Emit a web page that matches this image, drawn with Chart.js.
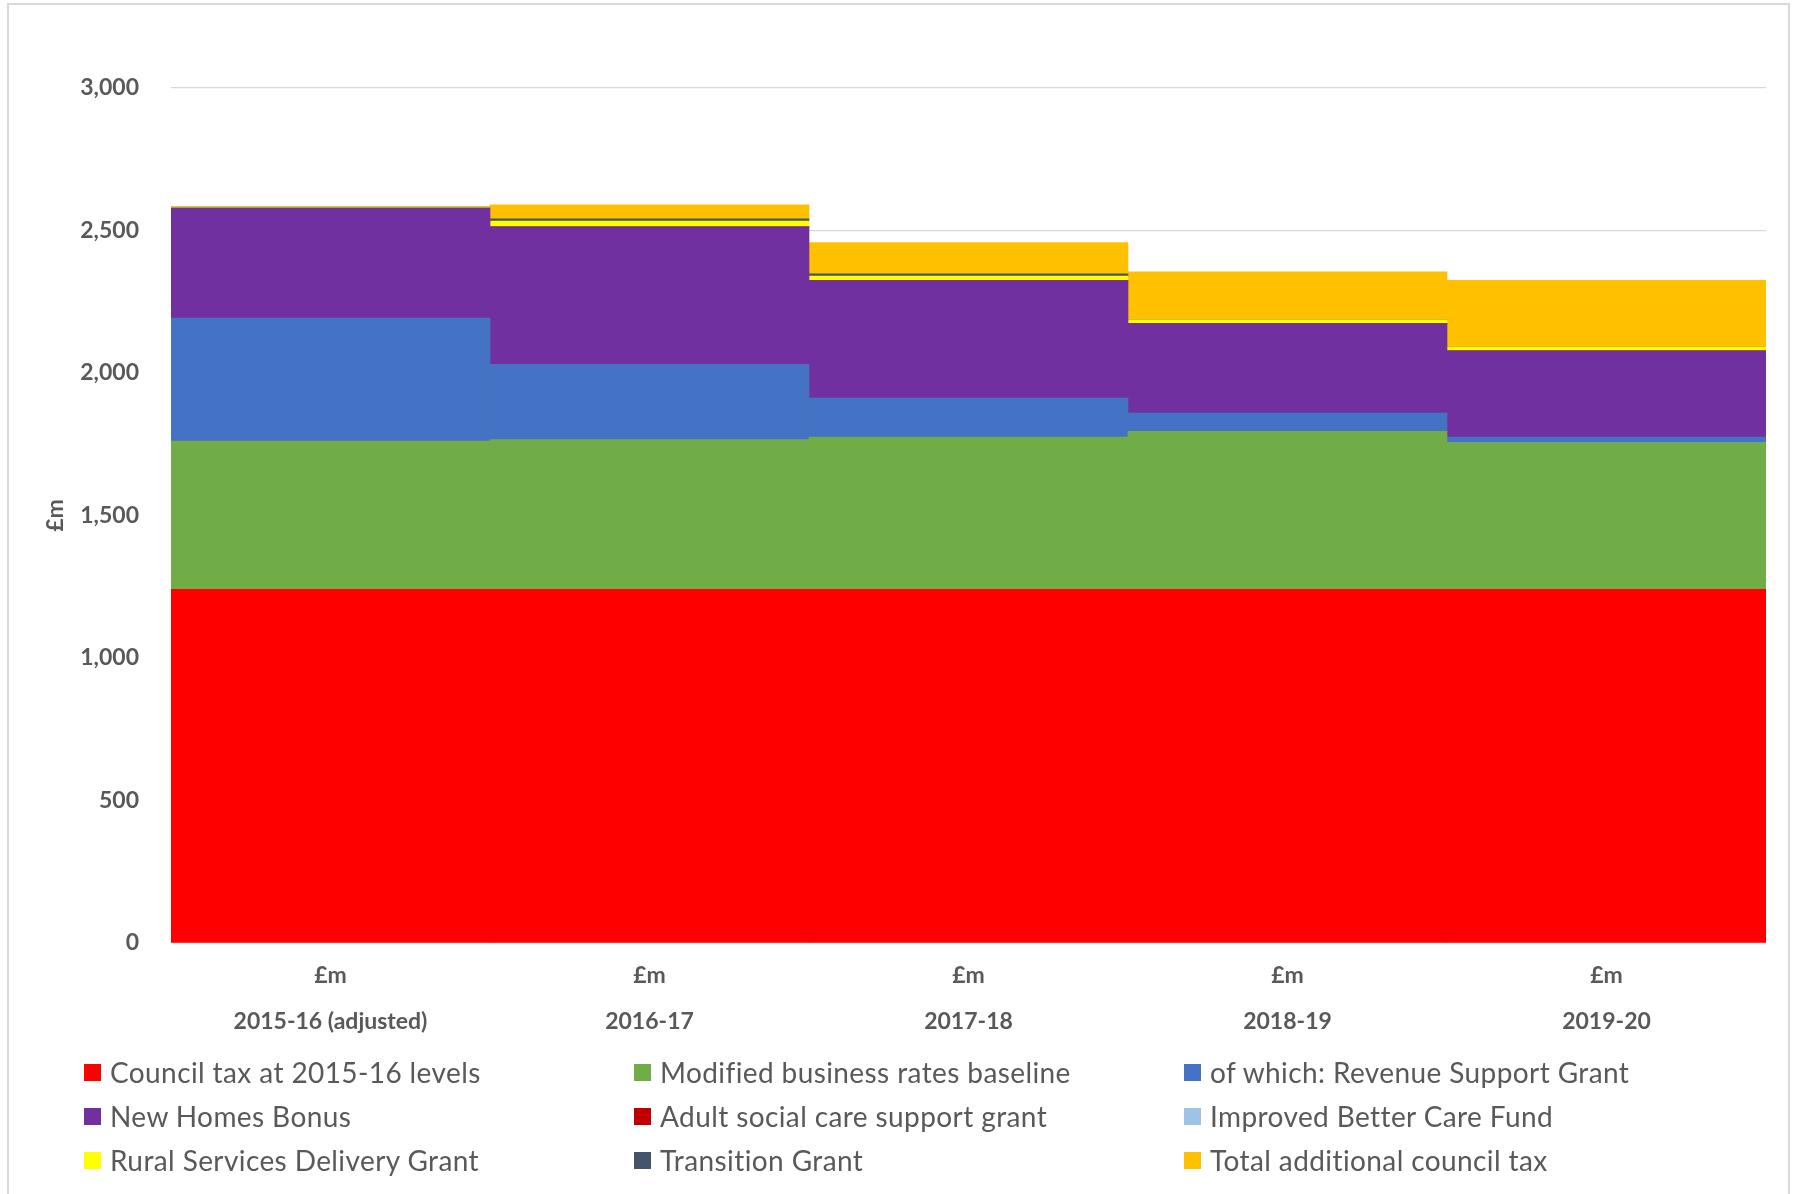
<!DOCTYPE html>
<html lang="en">
<head>
<meta charset="utf-8">
<title>Core spending power</title>
<script src="https://cdn.jsdelivr.net/npm/chart.js@4.4.1/dist/chart.umd.min.js"></script>
<style>
  html, body { margin: 0; padding: 0; background: #fff; }
  body { width: 1794px; height: 1194px; position: relative; overflow: hidden; font-family: Lato, sans-serif; }
  #frame { position: absolute; left: 7px; top: 3px; width: 1783px; height: 1300px; border: 2px solid #d9d9d9; box-sizing: border-box; }
  #chart { position: absolute; left: 0; top: 0; }
  #legend { position: absolute; left: 84px; top: 1050px; display: grid; grid-template-columns: repeat(3, 550px); grid-auto-rows: 44px; }
  .item { display: flex; align-items: center; font-size: 28px; letter-spacing: 0.4px; color: #595959; white-space: nowrap; }
  .swatch { width: 17px; height: 17px; margin-right: 9px; flex: none; }
</style>
</head>
<body>
<div id="frame"></div>
<canvas id="chart" width="1794" height="1194"></canvas>
<div id="legend"></div>
<script>
// categories and units
const years = ['2015-16 (adjusted)', '2016-17', '2017-18', '2018-19', '2019-20'];
const unitLabel = '£m';

// series, bottom of the stack first
const seriesNames = [
  'Council tax at 2015-16 levels',
  'Modified business rates baseline',
  'of which: Revenue Support Grant',
  'New Homes Bonus',
  'Adult social care support grant',
  'Improved Better Care Fund',
  'Rural Services Delivery Grant',
  'Transition Grant',
  'Total additional council tax'
];
const seriesColors = ['#ff0000', '#70ad47', '#4472c4', '#7030a0', '#c00000', '#9dc3e6', '#ffff00', '#44546a', '#ffc000'];

const councilTax2015 = [1241, 1241, 1241, 1241, 1241];
const businessRatesBaseline = [520, 525, 534, 554, 515];
const revenueSupportGrant = [432, 264, 137, 64, 19];
const newHomesBonus = [386, 483, 412, 314, 303];
const adultSocialCareGrant = [0, 0, 0, 0, 0];
const improvedBetterCareFund = [0, 0, 0, 0, 0];
const ruralServicesGrant = [4, 20, 16, 14, 13];
const transitionGrant = [0, 8, 8, 0, 0];
const additionalCouncilTax = [0, 49, 110, 168, 234];

// y axis
const yMax = 3000;
const yStep = 500;

const seriesValues = [
  councilTax2015, businessRatesBaseline, revenueSupportGrant, newHomesBonus,
  adultSocialCareGrant, improvedBetterCareFund, ruralServicesGrant, transitionGrant, additionalCouncilTax
];

const datasets = seriesNames.map((name, i) => ({
  label: name,
  data: seriesValues[i],
  backgroundColor: seriesColors[i],
  borderWidth: 0,
  categoryPercentage: 1,
  barPercentage: 1
}));

const tickFont = { family: 'Lato', weight: 'bold', size: 23 };

new Chart(document.getElementById('chart'), {
  type: 'bar',
  data: {
    labels: years.map(y => [unitLabel, y]),
    datasets: datasets
  },
  options: {
    responsive: false,
    animation: false,
    layout: { padding: { top: 88, right: 28, left: 0, bottom: 0 } },
    plugins: {
      legend: { display: false },
      tooltip: { enabled: false }
    },
    scales: {
      x: {
        stacked: true,
        grid: { display: false, drawTicks: false },
        border: { display: false },
        ticks: {
          padding: 10,
          color: '#595959',
          autoSkip: false,
          maxRotation: 0,
          font: { ...tickFont, lineHeight: 1.98 }
        },
        afterFit: s => { s.height = 251; }
      },
      y: {
        stacked: true,
        min: 0,
        max: yMax,
        grid: { color: '#d9d9d9', lineWidth: 1.3, drawTicks: false },
        border: { display: false },
        ticks: {
          stepSize: yStep,
          padding: 32,
          color: '#595959',
          font: tickFont,
          callback: v => v.toLocaleString('en-GB')
        },
        title: {
          display: true,
          text: unitLabel,
          color: '#595959',
          font: tickFont,
          padding: { top: 42, bottom: 0 }
        },
        afterFit: s => { s.width = 171; }
      }
    }
  }
});

// three-column legend under the plot
const legend = document.getElementById('legend');
seriesNames.forEach((name, i) => {
  const item = document.createElement('div');
  item.className = 'item';
  const sw = document.createElement('span');
  sw.className = 'swatch';
  sw.style.background = seriesColors[i];
  const txt = document.createElement('span');
  txt.textContent = name;
  item.appendChild(sw);
  item.appendChild(txt);
  legend.appendChild(item);
});
</script>
</body>
</html>
